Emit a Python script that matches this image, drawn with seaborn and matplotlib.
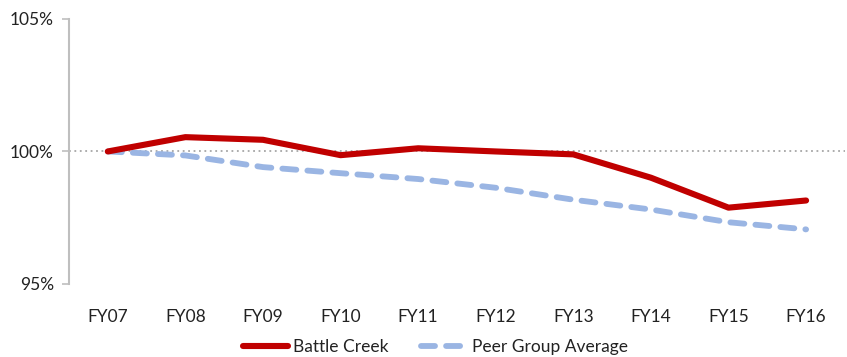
import matplotlib
matplotlib.use("Agg")
import matplotlib.pyplot as plt
import seaborn as sns
import pandas as pd
from matplotlib.ticker import FuncFormatter

years = ["FY07", "FY08", "FY09", "FY10", "FY11", "FY12", "FY13", "FY14", "FY15", "FY16"]
battle_creek = [100.0, 100.54, 100.44, 99.86, 100.12, 100.0, 99.89, 99.01, 97.88, 98.15]
peer_avg = [100.0, 99.85, 99.41, 99.18, 98.96, 98.63, 98.18, 97.81, 97.33, 97.06]

sns.set_theme(style="white")
plt.rcParams["font.family"] = ["Lato", "DejaVu Sans"]

df = pd.DataFrame({"year": years, "Battle Creek": battle_creek,
                   "Peer Group Average": peer_avg})
df["pos"] = range(len(years))

fig = plt.figure(figsize=(8.47, 3.57), dpi=100)
ax = fig.add_axes([0.0815, 0.2045, 0.916, 0.7425])

# reference line at 100%
ax.axhline(100, color="#A6A6A6", lw=1.3, ls=(0, (1, 2)), zorder=1)

sns.lineplot(data=df, x="pos", y="Battle Creek", ax=ax, color="#C00000",
             lw=4.4, label="Battle Creek", solid_capstyle="round",
             solid_joinstyle="round", zorder=3)
sns.lineplot(data=df, x="pos", y="Peer Group Average", ax=ax, color="#9AB5E3",
             lw=4.2, label="Peer Group Average", dashes=False, zorder=2)
peer_line = ax.lines[-1]
peer_line.set_linestyle((0, (2.4, 1.9)))
peer_line.set_dash_capstyle("round")

ax.set_xlim(-0.5, len(years) - 0.5)
ax.set_ylim(95, 105)
ax.set_yticks([95, 100, 105])
ax.yaxis.set_major_formatter(FuncFormatter(lambda v, p: f"{v:.0f}%"))
ax.set_xticks(range(len(years)))
ax.set_xticklabels(years)
ax.set_xlabel("")
ax.set_ylabel("")

for side in ["top", "right", "bottom"]:
    ax.spines[side].set_visible(False)
ax.spines["left"].set_color("#BFBFBF")
ax.spines["left"].set_linewidth(1.5)
ax.tick_params(axis="y", which="major", left=True, length=5, width=1.2,
               color="#BFBFBF", labelsize=12.5, labelcolor="#222222", pad=6)
ax.tick_params(axis="x", bottom=False, labelsize=12.5, labelcolor="#222222", pad=12)

leg = ax.legend(loc="center", bbox_to_anchor=(0.472, -0.238), ncol=2,
                frameon=False, fontsize=12.5, handlelength=2.6,
                columnspacing=1.9, handletextpad=0.3)
for t in leg.get_texts():
    t.set_color("#222222")

fig.savefig("out.png", dpi=100)
